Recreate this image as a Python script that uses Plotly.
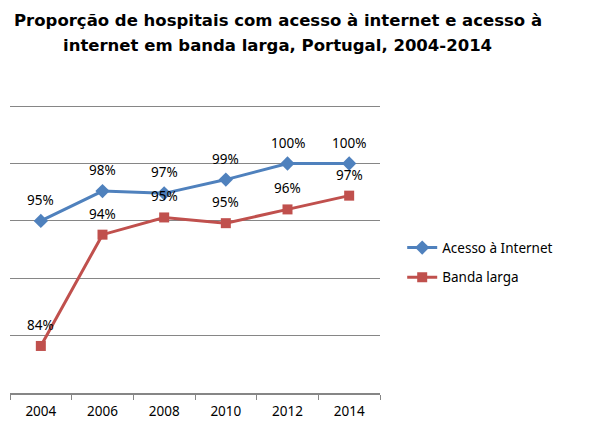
import plotly.graph_objects as go

years = ["2004", "2006", "2008", "2010", "2012", "2014"]
acesso = [95.0, 97.6, 97.4, 98.6, 100.0, 100.0]
banda = [84.1, 93.8, 95.3, 94.8, 96.0, 97.2]
series_names = ["Acesso à Internet", "Banda larga"]

title_lines = ["Proporção de hospitais com acesso à internet e acesso à",
               "internet em banda larga, Portugal, 2004-2014"]

FONT = "Noto Sans"
fig = go.Figure()
fig.add_trace(go.Scatter(
    x=years, y=acesso, name=series_names[0], mode="lines+markers", legendgroup="a",
    line=dict(color="#4F81BD", width=3),
    marker=dict(symbol="diamond", size=11, color="#4F81BD"),
))
fig.add_trace(go.Scatter(
    x=years, y=banda, name=series_names[1], mode="lines+markers", legendgroup="b",
    line=dict(color="#C0504D", width=3),
    marker=dict(symbol="square", size=10, color="#C0504D"),
))

annotations = []
for series in (acesso, banda):
    for i, y in enumerate(series):
        annotations.append(dict(x=i, y=y, xref="x", yref="y", text=f"{y:.0f}%",
                                showarrow=False, yshift=21,
                                font=dict(family=FONT, size=13.5, color="#000000")))

for line, ypos in zip(title_lines, [1.295, 1.205]):
    annotations.append(dict(x=0.724, y=ypos, xref="paper", yref="paper", text="<b>" + line + "</b>",
                            showarrow=False, xanchor="center", yanchor="middle",
                            font=dict(family="DejaVu Sans", size=16.5, color="#000000")))

fig.update_layout(
    width=589, height=440,
    margin=dict(l=10, r=209, t=105, b=47),
    paper_bgcolor="white", plot_bgcolor="white",
    annotations=annotations,
    showlegend=True,
    legend=dict(x=1.06, xanchor="left", y=0.452, yanchor="middle",
                font=dict(family=FONT, size=13.5, color="#000000"),
                tracegroupgap=9, bgcolor="rgba(0,0,0,0)"),
    xaxis=dict(type="category", range=[-0.5, len(years) - 0.5], showgrid=False, showline=True,
               linecolor="#868686", linewidth=1.5,
               ticks="outside", tickson="boundaries", ticklen=5, tickcolor="#868686",
               ticklabelstandoff=5,
               tickfont=dict(family=FONT, size=13.5, color="#000000"), fixedrange=True),
    yaxis=dict(range=[80, 105.1], tickvals=[85, 90, 95, 100, 105], showticklabels=False, showgrid=True,
               gridcolor="#868686", gridwidth=1, zeroline=False, showline=False, ticks=""),
)

fig.write_html("out.html")
